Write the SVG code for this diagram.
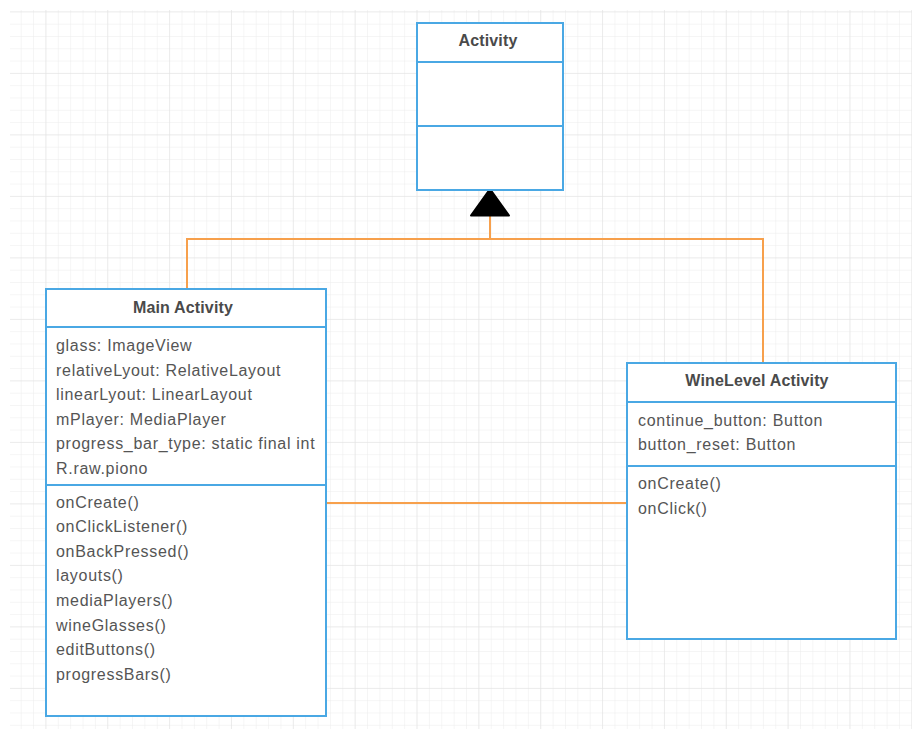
<svg xmlns="http://www.w3.org/2000/svg" width="912" height="729" viewBox="0 0 912 729">
  <defs>
    <pattern id="minor" x="20.7" y="23.7" width="12.37" height="12.3" patternUnits="userSpaceOnUse">
      <path d="M0 0V12.3M0 0H12.37" fill="none" stroke="#ececec" stroke-width="1"/>
    </pattern>
    <pattern id="major" x="45.4" y="72.9" width="61.85" height="61.5" patternUnits="userSpaceOnUse">
      <path d="M0 0V61.5M0 0H61.85" fill="none" stroke="#e2e2e2" stroke-width="1"/>
    </pattern>
    <style>
      .box { fill: #ffffff; stroke: #4aa8e4; stroke-width: 2; }
      .div { stroke: #4aa8e4; stroke-width: 2; fill: none; }
      .title { font-family: "Liberation Sans", Arial, sans-serif; font-size: 16px; font-weight: bold; fill: #4a4a4a; text-anchor: middle; letter-spacing: 0.15px; }
      .txt { font-family: "Liberation Sans", Arial, sans-serif; font-size: 16px; fill: #555555; letter-spacing: 0.7px; }
      .link { fill: none; stroke: #f7a04c; stroke-width: 2; }
    </style>
  </defs>

  <!-- background and drawing grid -->
  <rect width="912" height="729" fill="#ffffff"/>
  <rect x="10" y="10" width="902" height="719" fill="url(#minor)"/>
  <rect x="10" y="10" width="902" height="719" fill="url(#major)"/>

  <!-- connectors -->
  <g id="connectors">
    <path class="link" d="M187 289V239H763V363"/>
    <path class="link" d="M490 239V214"/>
    <path class="link" d="M327 503H627"/>
    <path d="M490 189L471 215.5H509Z" fill="#000000" stroke="#000000" stroke-width="2" stroke-linejoin="round"/>
  </g>

  <!-- base class -->
  <g id="activity">
    <rect class="box" x="417" y="23" width="146" height="167"/>
    <line class="div" x1="417" y1="62" x2="563" y2="62"/>
    <line class="div" x1="417" y1="126" x2="563" y2="126"/>
    <text class="title" x="488" y="46">Activity</text>
  </g>

  <!-- main screen class -->
  <g id="main-activity">
    <rect class="box" x="46" y="289" width="280" height="427"/>
    <line class="div" x1="46" y1="327" x2="326" y2="327"/>
    <line class="div" x1="46" y1="485" x2="326" y2="485"/>
    <text class="title" x="183" y="313">Main Activity</text>
    <text class="txt" x="56" y="351">glass: ImageView</text>
    <text class="txt" x="56" y="375.6">relativeLyout: RelativeLayout</text>
    <text class="txt" x="56" y="400.2">linearLyout: LinearLayout</text>
    <text class="txt" x="56" y="424.8">mPlayer: MediaPlayer</text>
    <text class="txt" x="56" y="449.4">progress_bar_type: static final int</text>
    <text class="txt" x="56" y="474">R.raw.piono</text>
    <text class="txt" x="56" y="507.5">onCreate()</text>
    <text class="txt" x="56" y="532.1">onClickListener()</text>
    <text class="txt" x="56" y="556.7">onBackPressed()</text>
    <text class="txt" x="56" y="581.3">layouts()</text>
    <text class="txt" x="56" y="605.9">mediaPlayers()</text>
    <text class="txt" x="56" y="630.5">wineGlasses()</text>
    <text class="txt" x="56" y="655.1">editButtons()</text>
    <text class="txt" x="56" y="679.7">progressBars()</text>
  </g>

  <!-- wine level screen class -->
  <g id="winelevel-activity">
    <rect class="box" x="627" y="363" width="269" height="276"/>
    <line class="div" x1="627" y1="402" x2="896" y2="402"/>
    <line class="div" x1="627" y1="466" x2="896" y2="466"/>
    <text class="title" x="757" y="386">WineLevel Activity</text>
    <text class="txt" x="638" y="425.5">continue_button: Button</text>
    <text class="txt" x="638" y="450">button_reset: Button</text>
    <text class="txt" x="638" y="489">onCreate()</text>
    <text class="txt" x="638" y="513.5">onClick()</text>
  </g>
</svg>
